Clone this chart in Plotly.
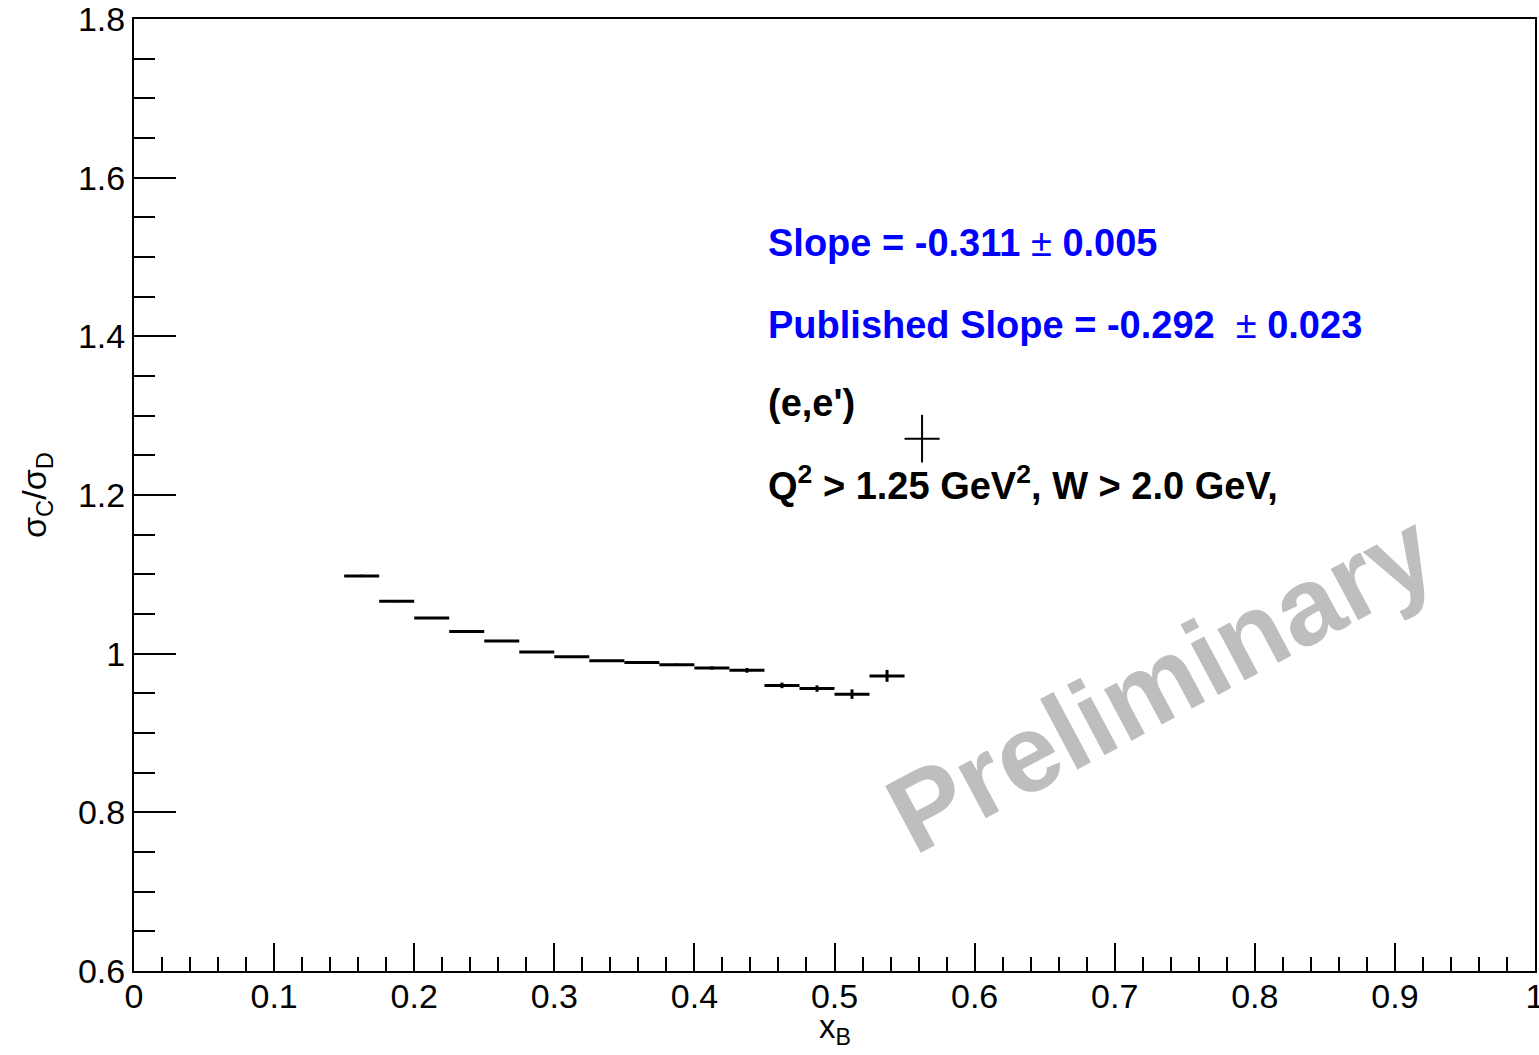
import plotly.graph_objects as go

# Carbon / deuterium cross-section ratio vs Bjorken x (bin centres, half-widths, stat errors)
x_centers = [0.1625, 0.1875, 0.2125, 0.2375, 0.2625, 0.2875, 0.3125, 0.3375,
             0.3625, 0.3875, 0.4125, 0.4375, 0.4625, 0.4875, 0.5125, 0.5375]
ratio = [1.098, 1.066, 1.045, 1.028, 1.016, 1.002, 0.996, 0.991,
         0.989, 0.986, 0.982, 0.979, 0.960, 0.956, 0.949, 0.972]
ratio_err = [0.0015, 0.001, 0.001, 0.001, 0.001, 0.001, 0.001, 0.0012,
             0.0012, 0.0015, 0.002, 0.003, 0.0035, 0.004, 0.006, 0.0075]
bin_half_width = 0.0125

# Isolated high-x point
x_extra = [0.5625]
ratio_extra = [1.271]
ratio_extra_err = [0.030]

slope_text = "Slope = -0.311 <span style='font-weight:normal'>\u00b1</span> 0.005"
published_text = "Published Slope = -0.292  <span style='font-weight:normal'>\u00b1</span> 0.023"
reaction_text = "(e,e')"
cuts_text = "Q<sup>2</sup> > 1.25 GeV<sup>2</sup>, W > 2.0 GeV,"

FONT = "Liberation Sans, Arial, Helvetica, sans-serif"

fig = go.Figure()

fig.add_trace(go.Scatter(
    x=x_centers, y=ratio, mode="markers",
    marker=dict(size=0.1, color="black", opacity=0),
    error_x=dict(type="constant", value=bin_half_width, width=0, thickness=3, color="black"),
    error_y=dict(type="data", array=ratio_err, width=0, thickness=3, color="black"),
    showlegend=False, hoverinfo="skip",
))

fig.add_trace(go.Scatter(
    x=x_extra, y=ratio_extra, mode="markers",
    marker=dict(size=0.1, color="black", opacity=0),
    error_x=dict(type="constant", value=bin_half_width, width=0, thickness=2, color="black"),
    error_y=dict(type="data", array=ratio_extra_err, width=0, thickness=2, color="black"),
    showlegend=False, hoverinfo="skip",
))

text_x = 0.451
for txt, yy, col in [(slope_text, 1.5176, "#0000FF"),
                     (published_text, 1.4143, "#0000FF"),
                     (reaction_text, 1.316, "black"),
                     (cuts_text, 1.215, "black")]:
    fig.add_annotation(x=text_x, y=yy, xref="x", yref="y", text=txt,
                       showarrow=False, xanchor="left", yanchor="middle",
                       font=dict(family=FONT, size=38, color=col, weight="bold"))

# Watermark
fig.add_annotation(x=0.733, y=0.965, xref="x", yref="y", text="Preliminary",
                   showarrow=False, textangle=-28,
                   font=dict(family=FONT, size=110, color="#BEBEBE", weight="bold"))

# Axis titles (paper coordinates so they sit outside the plotting area)
fig.add_annotation(x=-0.070, y=0.5, xref="paper", yref="paper",
                   text="\u03c3<sub>C</sub>/\u03c3<sub>D</sub>", textangle=-90,
                   showarrow=False, xanchor="center", yanchor="middle",
                   font=dict(family=FONT, size=34, color="black"))
fig.add_annotation(x=0.5, y=-0.061, xref="paper", yref="paper",
                   text="x<sub>B</sub>", showarrow=False,
                   xanchor="center", yanchor="middle",
                   font=dict(family=FONT, size=33, color="black"))

axis_common = dict(showgrid=False, zeroline=False, showline=True, linecolor="black",
                   linewidth=2, mirror=True, ticks="inside", tickcolor="black",
                   tickwidth=2, ticklabeloverflow="allow", automargin=False,
                   tickfont=dict(family=FONT, size=34, color="black"))

fig.update_xaxes(range=[0, 1], dtick=0.1, tick0=0, ticklen=28, ticklabelstandoff=-6,
                 minor=dict(dtick=0.02, ticklen=14, ticks="inside", tickcolor="black", tickwidth=2),
                 **axis_common)
fig.update_yaxes(range=[0.6, 1.8], dtick=0.2, tick0=0.6, ticklen=42,
                 minor=dict(dtick=0.05, ticklen=21, ticks="inside", tickcolor="black", tickwidth=2),
                 **axis_common)

fig.update_layout(
    width=1539, height=1055,
    margin=dict(l=134, r=4, t=19, b=84, autoexpand=False),
    plot_bgcolor="white", paper_bgcolor="white",
)

fig.write_html("out.html")
